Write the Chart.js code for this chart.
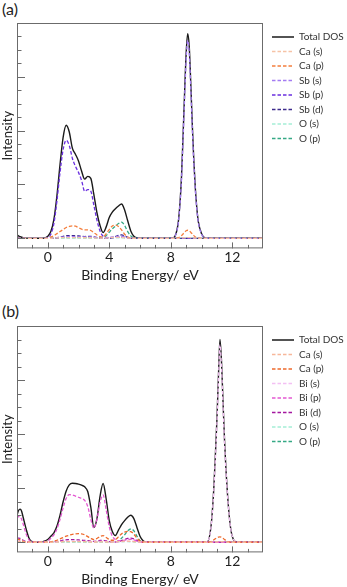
<!DOCTYPE html>
<html>
<head>
<meta charset="utf-8">
<script src="https://cdn.jsdelivr.net/npm/chart.js@4.4.1/dist/chart.umd.min.js"></script>
<style>
  html, body { margin: 0; padding: 0; background: #fff; }
  body { width: 347px; height: 587px; position: relative; overflow: hidden; font-family: Lato, 'DejaVu Sans', sans-serif; }
  .panel-tag { position: absolute; left: 2px; font-size: 16px; line-height: 18px; color: #222; }
  canvas { position: absolute; left: 0; }
</style>
</head>
<body>
<div class="panel-tag" style="top:0">(a)</div>
<canvas id="chartA" width="347" height="286" style="top:0"></canvas>
<div class="panel-tag" style="top:302px">(b)</div>
<canvas id="chartB" width="347" height="287" style="top:303px"></canvas>

<script>
// ---- panel (a): Ca / Sb / O ----
const energyA = [
  -2, -1.8, -1.6, -1.4, -1, -0.5, -0.2,
  0, 0.2, 0.4, 0.6, 0.8, 1.0, 1.2, 1.4, 1.6, 1.8, 2.0, 2.2, 2.4, 2.6, 2.8, 3.0,
  3.2, 3.4, 3.6, 3.8, 4.0, 4.2, 4.4, 4.6, 4.8, 5.0, 5.2, 5.4, 5.6, 5.8, 6.0,
  7, 8,
  8.2, 8.4, 8.5, 8.6, 8.7, 8.8, 8.9, 9.0, 9.1, 9.2, 9.3, 9.4, 9.5, 9.6, 9.7, 9.8, 10.0, 10.2,
  10.5, 12, 14
];
const totalA = [
  0.25, 0.12, 0.04, 0.01, 0, 0, 0.02,
  0.15, 0.5, 1.4, 3.2, 5.5, 7.5, 8.4, 7.9, 6.7, 6.25, 5.75, 5.0, 4.4, 4.6, 4.45, 3.25,
  1.9, 0.95, 0.43, 0.85, 1.55, 1.95, 2.2, 2.4, 2.55, 2.1, 1.3, 0.55, 0.15, 0.03, 0,
  0, 0,
  0.05, 0.6, 1.3, 2.6, 4.6, 7.6, 10.8, 13.7, 15.2, 14.3, 11.6, 8.5, 5.8, 3.7, 2.2, 1.2, 0.35, 0.05,
  0, 0, 0
];
const caSA = [
  0, 0, 0, 0, 0, 0, 0,
  0, 0, 0.02, 0.03, 0.04, 0.05, 0.05, 0.05, 0.05, 0.05, 0.05, 0.04, 0.04, 0.04, 0.04, 0.03,
  0.02, 0.01, 0.01, 0.02, 0.04, 0.06, 0.07, 0.07, 0.06, 0.04, 0.02, 0.01, 0, 0, 0,
  0, 0,
  0, 0, 0, 0.01, 0.02, 0.03, 0.04, 0.05, 0.05, 0.05, 0.04, 0.03, 0.02, 0.01, 0, 0, 0, 0,
  0, 0, 0
];
const caPA = [
  0, 0, 0, 0, 0, 0, 0,
  0, 0.1, 0.2, 0.35, 0.5, 0.65, 0.8, 0.88, 0.92, 0.9, 0.78, 0.68, 0.62, 0.63, 0.58, 0.42,
  0.25, 0.12, 0.1, 0.35, 0.65, 0.92, 0.98, 0.88, 0.62, 0.3, 0.1, 0.02, 0, 0, 0,
  0, 0,
  0, 0.02, 0.05, 0.1, 0.2, 0.32, 0.45, 0.56, 0.6, 0.56, 0.45, 0.32, 0.2, 0.1, 0.04, 0.01, 0, 0,
  0, 0, 0
];
const sbSA = [
  0, 0, 0, 0, 0, 0, 0,
  0, 0, 0.02, 0.05, 0.08, 0.1, 0.12, 0.12, 0.12, 0.11, 0.1, 0.1, 0.1, 0.1, 0.1, 0.08,
  0.05, 0.02, 0.01, 0.03, 0.06, 0.1, 0.13, 0.15, 0.15, 0.12, 0.06, 0.02, 0, 0, 0,
  0, 0,
  0.05, 0.55, 1.2, 2.5, 4.4, 7.3, 10.4, 13.2, 14.7, 13.8, 11.2, 8.2, 5.6, 3.6, 2.1, 1.15, 0.33, 0.05,
  0, 0, 0
];
const sbPA = [
  0.03, 0.01, 0, 0, 0, 0, 0,
  0.05, 0.3, 1.1, 2.8, 4.9, 6.6, 7.28, 6.9, 5.95, 5.35, 4.9, 4.3, 3.5, 3.62, 3.5, 2.45,
  1.35, 0.55, 0.15, 0.06, 0.05, 0.05, 0.06, 0.08, 0.08, 0.05, 0.02, 0, 0, 0, 0,
  0, 0,
  0, 0, 0, 0, 0, 0, 0, 0, 0, 0, 0, 0, 0, 0, 0, 0, 0, 0,
  0, 0, 0
];
const sbDA = [
  0, 0, 0, 0, 0, 0, 0,
  0, 0, 0, 0.03, 0.08, 0.15, 0.2, 0.2, 0.2, 0.18, 0.17, 0.15, 0.13, 0.15, 0.15, 0.1,
  0.05, 0.02, 0, 0, 0, 0.05, 0.12, 0.22, 0.25, 0.18, 0.07, 0.02, 0, 0, 0,
  0, 0,
  0, 0, 0, 0, 0, 0, 0, 0, 0, 0, 0, 0, 0, 0, 0, 0, 0, 0,
  0, 0, 0
];
const oSA = [
  0, 0, 0, 0, 0, 0, 0,
  0, 0, 0, 0, 0, 0, 0, 0, 0, 0, 0, 0, 0, 0, 0, 0,
  0, 0, 0, 0, 0.01, 0.02, 0.03, 0.04, 0.04, 0.03, 0.02, 0.01, 0, 0, 0,
  0, 0,
  0, 0, 0, 0, 0, 0, 0, 0, 0, 0, 0, 0, 0, 0, 0, 0, 0, 0,
  0, 0, 0
];
const oPA = [
  0.02, 0.01, 0, 0, 0, 0, 0,
  0, 0.01, 0.02, 0.03, 0.04, 0.05, 0.05, 0.05, 0.05, 0.05, 0.05, 0.05, 0.05, 0.05, 0.05, 0.05,
  0.04, 0.03, 0.06, 0.2, 0.45, 0.7, 0.9, 1.1, 1.2, 0.95, 0.5, 0.18, 0.05, 0.01, 0,
  0, 0,
  0, 0, 0, 0, 0, 0, 0, 0, 0, 0, 0, 0, 0, 0, 0, 0, 0, 0,
  0, 0, 0
];
const namesA = ['Total DOS', 'Ca (s)', 'Ca (p)', 'Sb (s)', 'Sb (p)', 'Sb (d)', 'O (s)', 'O (p)'];

// ---- panel (b): Ca / Bi / O ----
const energyB = [
  -2, -1.9, -1.8, -1.7, -1.6, -1.4, -1.2, -1.0, -0.6, -0.3,
  0, 0.2, 0.4, 0.6, 0.8, 1.0, 1.2, 1.4, 1.6, 1.8, 2.0, 2.2, 2.4, 2.6, 2.8, 3.0, 3.2,
  3.4, 3.6, 3.8, 4.0, 4.2, 4.4, 4.6, 4.8, 5.0, 5.2, 5.4, 5.6, 5.8, 6.0, 6.2, 6.4,
  7, 8, 9, 10, 10.4,
  10.6, 10.7, 10.8, 10.9, 11.0, 11.1, 11.2, 11.3, 11.4, 11.5, 11.6, 11.7, 11.8, 11.9, 12.0,
  12.2, 12.5, 14
];
const totalB = [
  2.0, 2.35, 2.45, 2.3, 1.85, 0.95, 0.25, 0.04, 0, 0.05,
  0.2, 0.45, 0.7, 1.2, 2.0, 3.0, 3.8, 4.25, 4.37, 4.35, 4.3, 4.22, 4.1, 3.75, 2.6, 1.1, 1.75,
  3.4, 4.35, 3.2, 1.6, 0.8, 0.5, 0.9, 1.3, 1.6, 1.85, 2.0, 1.75, 1.1, 0.45, 0.12, 0.02,
  0, 0, 0, 0, 0.05,
  1.0, 2.2, 4.0, 6.4, 9.0, 12.2, 15.0, 13.4, 10.4, 7.5, 5.2, 3.4, 2.0, 1.0, 0.45,
  0.05, 0, 0
];
const caSB = [
  0.05, 0.05, 0.04, 0.03, 0.02, 0, 0, 0, 0, 0,
  0, 0, 0.01, 0.02, 0.03, 0.04, 0.05, 0.05, 0.05, 0.05, 0.05, 0.05, 0.04, 0.03, 0.02, 0.02, 0.02,
  0.03, 0.03, 0.02, 0.02, 0.02, 0.03, 0.05, 0.07, 0.08, 0.08, 0.07, 0.05, 0.03, 0.01, 0, 0,
  0, 0, 0, 0, 0,
  0, 0, 0.01, 0.02, 0.03, 0.04, 0.05, 0.04, 0.03, 0.02, 0.01, 0, 0, 0, 0,
  0, 0, 0
];
const caPB = [
  0.25, 0.22, 0.18, 0.12, 0.07, 0.02, 0, 0, 0, 0,
  0, 0.03, 0.08, 0.15, 0.25, 0.35, 0.45, 0.52, 0.58, 0.62, 0.64, 0.62, 0.55, 0.42, 0.28, 0.2, 0.28,
  0.42, 0.49, 0.35, 0.2, 0.15, 0.2, 0.4, 0.62, 0.75, 0.8, 0.78, 0.6, 0.3, 0.1, 0.02, 0,
  0, 0, 0, 0, 0,
  0.05, 0.1, 0.18, 0.26, 0.33, 0.38, 0.4, 0.38, 0.3, 0.2, 0.12, 0.05, 0.02, 0, 0,
  0, 0, 0
];
const biSB = [
  0.1, 0.12, 0.12, 0.1, 0.08, 0.04, 0.01, 0, 0, 0,
  0, 0.01, 0.02, 0.03, 0.05, 0.06, 0.07, 0.07, 0.07, 0.07, 0.07, 0.06, 0.06, 0.05, 0.04, 0.03, 0.04,
  0.06, 0.07, 0.05, 0.03, 0.02, 0.02, 0.03, 0.05, 0.06, 0.07, 0.07, 0.06, 0.04, 0.02, 0, 0,
  0, 0, 0, 0, 0.05,
  0.95, 2.1, 3.8, 6.1, 8.65, 11.8, 14.6, 13.0, 10.1, 7.3, 5.1, 3.35, 1.98, 1.0, 0.45,
  0.05, 0, 0
];
const biPB = [
  1.75, 1.9, 1.9, 1.7, 1.35, 0.6, 0.15, 0.03, 0, 0.02,
  0.1, 0.3, 0.55, 1.0, 1.7, 2.55, 3.25, 3.52, 3.5, 3.42, 3.33, 3.24, 3.1, 2.65, 1.7, 1.05, 1.7,
  2.95, 3.5, 2.4, 1.15, 0.45, 0.2, 0.12, 0.12, 0.15, 0.2, 0.22, 0.18, 0.08, 0.02, 0, 0,
  0, 0, 0, 0, 0,
  0, 0, 0, 0, 0, 0, 0, 0, 0, 0, 0, 0, 0, 0, 0,
  0, 0, 0
];
const biDB = [
  0.3, 0.3, 0.28, 0.22, 0.15, 0.05, 0.01, 0, 0, 0,
  0, 0, 0.03, 0.06, 0.1, 0.15, 0.18, 0.2, 0.2, 0.18, 0.17, 0.15, 0.14, 0.12, 0.08, 0.06, 0.08,
  0.13, 0.15, 0.1, 0.05, 0.02, 0.02, 0.05, 0.12, 0.2, 0.28, 0.3, 0.25, 0.12, 0.03, 0, 0,
  0, 0, 0, 0, 0,
  0, 0, 0, 0, 0, 0, 0, 0, 0, 0, 0, 0, 0, 0, 0,
  0, 0, 0
];
const oSB = [
  0, 0, 0, 0, 0, 0, 0, 0, 0, 0,
  0, 0, 0, 0, 0, 0, 0, 0, 0, 0, 0, 0, 0, 0, 0, 0, 0,
  0, 0, 0, 0, 0, 0.01, 0.02, 0.03, 0.04, 0.04, 0.03, 0.02, 0.01, 0, 0, 0,
  0, 0, 0, 0, 0,
  0, 0, 0, 0, 0, 0, 0, 0, 0, 0, 0, 0, 0, 0, 0,
  0, 0, 0
];
const oPB = [
  0.03, 0.03, 0.03, 0.02, 0.01, 0, 0, 0, 0, 0,
  0, 0.01, 0.02, 0.03, 0.04, 0.05, 0.05, 0.05, 0.05, 0.05, 0.05, 0.05, 0.05, 0.04, 0.03, 0.03, 0.03,
  0.04, 0.04, 0.03, 0.02, 0.02, 0.03, 0.1, 0.3, 0.55, 0.85, 0.98, 0.85, 0.45, 0.12, 0.02, 0,
  0, 0, 0, 0, 0,
  0, 0, 0, 0, 0, 0, 0, 0, 0, 0, 0, 0, 0, 0, 0,
  0, 0, 0
];
const namesB = ['Total DOS', 'Ca (s)', 'Ca (p)', 'Bi (s)', 'Bi (p)', 'Bi (d)', 'O (s)', 'O (p)'];

// axis
const xMin = -2, xMax = 14;
const yMin = -0.75, yMax = 16;
const xLabelTicks = [0, 4, 8, 12];

// styles
const colorsA = ['#1a1a1a', '#f6c3a6', '#f47f3e', '#a47cf2', '#6a2fe0', '#3d2b8c', '#a5eed6', '#35a985'];
const colorsB = ['#1a1a1a', '#f7b79a', '#ee6a2c', '#f3c0f3', '#e459d2', '#a4179f', '#a5eed6', '#35a985'];
const FONT = 'Lato, "DejaVu Sans", sans-serif';
const AXIS = '#6b6b6b';
const DASH = [3.5, 2];

// box + inward tick marks, placed with the chart's own scales
const frameTicks = {
  id: 'frameTicks',
  afterDraw(chart) {
    const { ctx, chartArea: a, scales: { x, y } } = chart;
    ctx.save();
    ctx.strokeStyle = AXIS;
    ctx.lineWidth = 1;
    ctx.strokeRect(a.left + 0.5, a.top + 0.5, a.right - a.left - 1, a.bottom - a.top - 1);
    ctx.beginPath();
    for (let e = Math.ceil(xMin) + 1; e < xMax; e++) {
      const px = Math.round(x.getPixelForValue(e)) + 0.5;
      const len = e % 4 === 0 ? 6 : 3.5;
      ctx.moveTo(px, a.bottom);
      ctx.lineTo(px, a.bottom - len);
    }
    for (let v = 0; v < yMax; v++) {
      const py = Math.round(y.getPixelForValue(v)) + 0.5;
      const len = v % 4 === 0 ? 8 : 4.5;
      ctx.moveTo(a.left, py);
      ctx.lineTo(a.left + len, py);
    }
    ctx.stroke();
    ctx.restore();
  }
};

function buildDatasets(energy, names, series, colors) {
  return names.map((name, i) => ({
    label: name,
    data: energy.map((e, j) => ({ x: e, y: series[i][j] })),
    borderColor: colors[i],
    backgroundColor: colors[i],
    borderWidth: i === 0 ? 1.4 : 1.3,
    borderDash: i === 0 ? [] : DASH,
    order: i === 0 ? 1 : 0,
    pointRadius: 0,
    fill: false,
    cubicInterpolationMode: 'monotone'
  }));
}

// legend entries keep the dash of their dataset
function legendItems(chart) {
  return chart.data.datasets.map((ds, i) => ({
    text: ds.label,
    datasetIndex: i,
    strokeStyle: ds.borderColor,
    fillStyle: ds.borderColor,
    lineWidth: ds.borderWidth + 0.2,
    lineDash: ds.borderDash,
    pointStyle: 'line',
    fontColor: '#333',
    hidden: false
  }));
}

function makeChart(id, energy, names, series, colors) {
  return new Chart(document.getElementById(id), {
    type: 'line',
    data: { datasets: buildDatasets(energy, names, series, colors) },
    options: {
      responsive: false,
      animation: false,
      layout: { padding: { top: 23, left: 0, right: 0, bottom: 0 } },
      scales: {
        x: {
          type: 'linear', min: xMin, max: xMax,
          grid: { display: false, drawTicks: false },
          border: { display: false },
          ticks: {
            stepSize: 1, autoSkip: false, maxRotation: 0, padding: 1,
            color: '#222', font: { family: FONT, size: 14 },
            callback: v => xLabelTicks.includes(v) ? String(v) : ''
          },
          title: {
            display: true, text: 'Binding Energy/ eV', color: '#222',
            font: { family: FONT, size: 14 }, padding: { top: 0, bottom: 2 }
          }
        },
        y: {
          min: yMin, max: yMax,
          grid: { display: false, drawTicks: false },
          border: { display: false },
          ticks: { display: false },
          title: {
            display: true, text: 'Intensity', color: '#222',
            font: { family: FONT, size: 13 }, padding: 0
          },
          afterFit: s => { s.width = 17; }
        },
        yr: {
          position: 'right',
          grid: { display: false, drawTicks: false },
          border: { display: false },
          ticks: { display: false },
          afterFit: s => { s.width = 4.5; }
        }
      },
      plugins: {
        tooltip: { enabled: false },
        legend: {
          position: 'right', align: 'start', maxWidth: 79.5,
          title: { display: true, text: '', font: { size: 1, lineHeight: 1 }, padding: { top: 3.5, bottom: 0 } },
          labels: {
            usePointStyle: true, pointStyle: 'line', pointStyleWidth: 22,
            padding: 4.5, color: '#333', font: { family: FONT, size: 10 },
            generateLabels: legendItems
          }
        }
      }
    },
    plugins: [frameTicks]
  });
}

makeChart('chartA', energyA, namesA, [totalA, caSA, caPA, sbSA, sbPA, sbDA, oSA, oPA], colorsA);
makeChart('chartB', energyB, namesB, [totalB, caSB, caPB, biSB, biPB, biDB, oSB, oPB], colorsB);
</script>
</body>
</html>
